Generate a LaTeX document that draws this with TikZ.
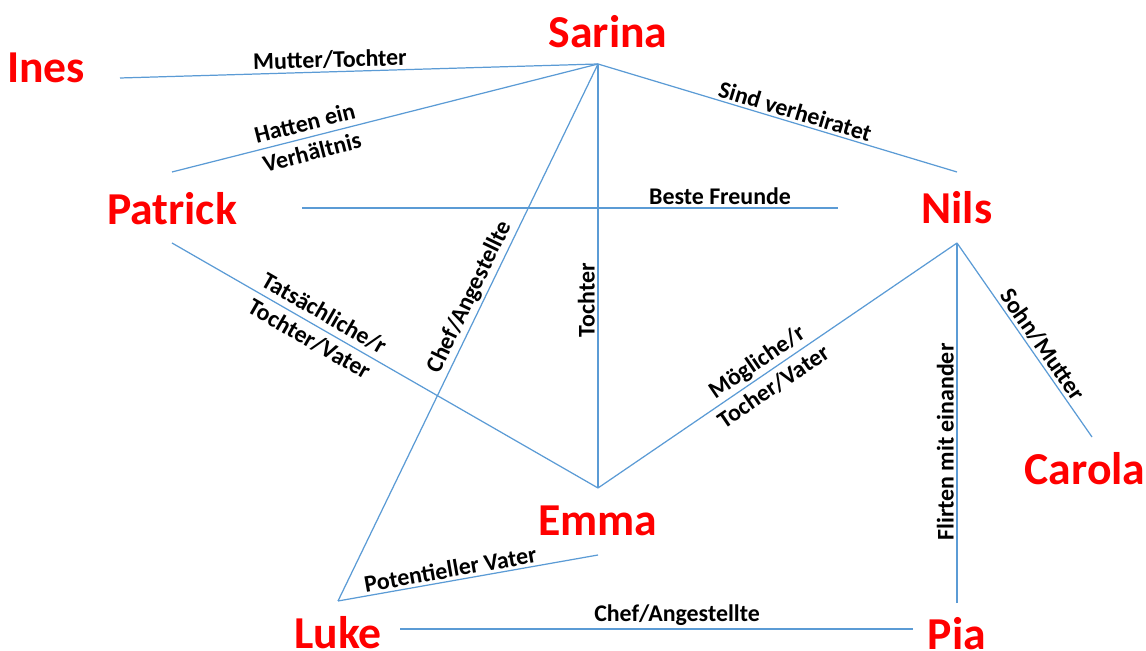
\documentclass[tikz,border=0pt]{standalone}
\usepackage{fontspec}
\setmainfont{Carlito}
\usepackage{tikz}
\usetikzlibrary{positioning}
\definecolor{relline}{RGB}{91,155,213}
\definecolor{nameRed}{RGB}{255,0,0}

\begin{document}
\begin{tikzpicture}[x=0.02cm, y=-0.02cm,
  pers/.style={text=nameRed, font=\fontsize{26}{30}\selectfont\bfseries, inner sep=0pt},
  rel/.style={draw=relline, line width=0.7pt},
  lbl/.style={font=\fontsize{13.6}{17}\selectfont\bfseries, sloped, allow upside down, inner sep=1.5pt},
  lbl2/.style={lbl, align=center}]
\useasboundingbox (0,0) rectangle (1146,651);
% people
\node[pers] (ines)    at (46,68)   {Ines};
\node[pers] (sarina)  at (608,32)  {Sarina};
\node[pers] (patrick) at (172,209) {Patrick};
\node[pers] (nils)    at (957,208) {Nils};
\node[pers] (emma)    at (598,521) {Emma};
\node[pers] (carola)  at (1085,469) {Carola};
\node[pers] (luke)    at (338,633) {Luke};
\node[pers] (pia)     at (957,634) {Pia};
% line ends
\coordinate (sarP)  at (598,64);
\coordinate (inesE) at (120,78);
\coordinate (patU)  at (172,172);
\coordinate (patE)  at (302,208);
\coordinate (patD)  at (172,243);
\coordinate (nilsU) at (957,172);
\coordinate (nilsW) at (838,208);
\coordinate (nilsD) at (957,243);
\coordinate (emmaU) at (598,488);
\coordinate (emmaD) at (598,555);
\coordinate (lukeU) at (338,601);
\coordinate (lukeE) at (400,629);
\coordinate (piaW)  at (913,629);
\coordinate (piaU)  at (957,603);
\coordinate (carU)  at (1092,437);
% relations
\draw[rel] (inesE) -- node[lbl, pos=0.44, above] {Mutter/Tochter} (sarP);
\draw[rel] (patU) -- node[lbl2, pos=0.32] {Hatten ein\\Verhältnis} (sarP);
\draw[rel] (sarP) -- node[lbl, pos=0.54, above] {Sind verheiratet} (nilsU);
\draw[rel] (patE) -- node[lbl, pos=0.78, above] {Beste Freunde} (nilsW);
\draw[rel] (emmaU) -- node[lbl, pos=0.443, above] {Tochter} (sarP);
\draw[rel] (lukeU) -- node[lbl, pos=0.555, above] {Chef/Angestellte} (sarP);
\draw[rel] (patD) -- node[lbl2, pos=0.34] {Tatsächliche/r\\Tochter/Vater} (emmaU);
\draw[rel] (emmaU) -- node[lbl2, pos=0.465] {Mögliche/r\\Tocher/Vater} (nilsD);
\draw[rel] (piaU) -- node[lbl, pos=0.447, above] {Flirten mit einander} (nilsD);
\draw[rel] (nilsD) -- node[lbl, pos=0.56, above] {Sohn/Mutter} (carU);
\draw[rel] (lukeU) -- node[lbl, pos=0.44, above] {Potentieller Vater} (emmaD);
\draw[rel] (lukeE) -- node[lbl, pos=0.54, above] {Chef/Angestellte} (piaW);
\end{tikzpicture}
\end{document}
